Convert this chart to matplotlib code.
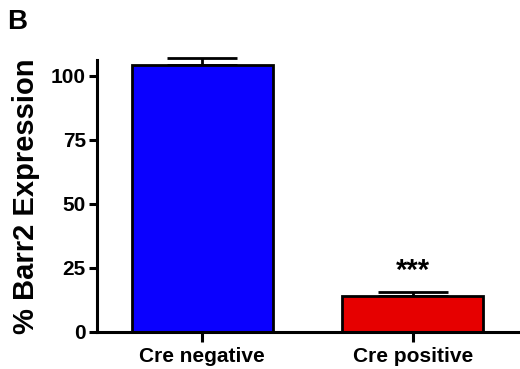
"""Barr2 expression: Cre negative vs Cre positive"""
import matplotlib.pyplot as plt

plt.rcParams['font.family'] = ['Liberation Sans', 'DejaVu Sans']
plt.rcParams['font.weight'] = 'bold'

groups = ['Cre negative', 'Cre positive']
expression = [104, 14]
sem = [3, 1.7]
bar_colors = ['#0a00ff', '#e60000']

fig = plt.figure(figsize=(5.2, 3.69), dpi=100)
ax = fig.add_axes([0.1865, 0.101, 0.8095, 0.736])

x = range(len(groups))
ax.bar(x, expression, width=0.67, color=bar_colors, edgecolor='black', linewidth=2, zorder=2)
eb = ax.errorbar(x, expression, yerr=[[0, 0], sem], fmt='none', ecolor='black',
                 elinewidth=2, capsize=25.5, capthick=2, zorder=1)
for art in eb.lines[1] + eb.lines[2]:
    art.set_clip_on(False)

ax.text(1, expression[1] + sem[1] + 2.5, '***', ha='center', va='bottom', fontsize=21, fontweight='bold')

ax.set_xlim(-0.5, 1.5)
ax.set_ylim(0, 106)
ax.set_yticks([0, 25, 50, 75, 100])
ax.set_xticks(list(x))
ax.set_xticklabels(groups, fontsize=15, fontweight='bold')
ax.tick_params(axis='y', labelsize=15, width=2.2, length=6, pad=2)
ax.tick_params(axis='x', width=2.2, length=7, pad=4)
ax.set_ylabel('% Barr2 Expression', fontsize=21, fontweight='bold', labelpad=8)

for side in ['top', 'right']:
    ax.spines[side].set_visible(False)
for side in ['left', 'bottom']:
    ax.spines[side].set_linewidth(2.2)

fig.text(0.014, 0.975, 'B', fontsize=20, fontweight='bold', va='top', ha='left')

fig.savefig('out.png', dpi=100)
